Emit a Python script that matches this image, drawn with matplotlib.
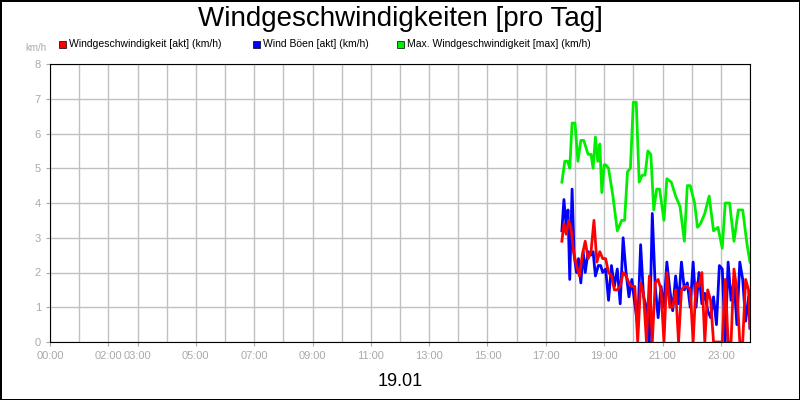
import matplotlib.pyplot as plt

plt.rcParams['font.family'] = ['Liberation Sans', 'DejaVu Sans']

# hours of the day, values in km/h
t_max = [17.55, 17.65, 17.75, 17.82, 17.9, 18.0, 18.1, 18.2, 18.3, 18.45, 18.55, 18.62, 18.7, 18.78, 18.85, 18.92, 19.0,
         19.05, 19.15, 19.3, 19.45, 19.6, 19.7, 19.8, 19.9, 20.0, 20.1, 20.2, 20.3, 20.4, 20.5, 20.6, 20.7, 20.8, 20.9,
         21.05, 21.15, 21.3, 21.45, 21.6, 21.75, 21.85, 21.95, 22.1, 22.2, 22.3, 22.45, 22.6, 22.75, 22.9, 23.05,
         23.15, 23.3, 23.45, 23.6, 23.75, 23.9, 24.0]
v_max = [4.6, 5.2, 5.2, 5.0, 6.3, 6.3, 5.2, 5.8, 5.8, 5.4, 5.4, 5.0, 5.9, 5.2, 5.7, 4.3, 5.1,
         5.1, 5.0, 4.2, 3.2, 3.5, 3.5, 4.9, 5.0, 6.9, 6.9, 4.6, 4.8, 4.8, 5.5, 5.4, 3.8, 4.4, 4.4,
         3.5, 4.7, 4.6, 4.2, 3.9, 2.9, 4.5, 4.5, 4.0, 3.3, 3.4, 3.7, 4.2, 3.2, 3.3, 2.7,
         4.0, 4.0, 2.9, 3.8, 3.8, 2.8, 2.3]

t_gust = [17.55, 17.62, 17.7, 17.76, 17.82, 17.9, 17.97, 18.05, 18.12, 18.2, 18.28, 18.35, 18.45, 18.55, 18.62, 18.7,
          18.8, 18.88, 18.95, 19.05, 19.15, 19.25, 19.35, 19.45, 19.55, 19.65, 19.75, 19.85, 19.95, 20.05, 20.15,
          20.25, 20.35, 20.45, 20.55, 20.65, 20.75, 20.85, 20.95, 21.05, 21.15, 21.25, 21.35, 21.45, 21.55, 21.65,
          21.75, 21.85, 21.95, 22.05, 22.15, 22.25, 22.35, 22.45, 22.55, 22.65, 22.75, 22.85, 22.95, 23.05, 23.15,
          23.25, 23.35, 23.45, 23.55, 23.65, 23.75, 23.85, 23.95, 24.0]
v_gust = [3.2, 4.1, 3.3, 3.8, 1.8, 4.4, 2.5, 2.0, 2.4, 1.7, 2.6, 2.0, 2.6, 2.5, 2.6, 1.9, 2.2,
          2.2, 2.0, 2.1, 1.2, 2.2, 1.6, 2.1, 1.1, 3.0, 2.0, 1.3, 1.8, 1.1, 0.5, 2.8, 1.3, 1.0, 0.0, 3.7,
          1.6, 0.7, 1.6, 1.0, 2.3, 1.5, 0.9, 1.9, 1.1, 2.3, 1.5, 1.7, 1.0, 2.3, 1.0, 2.0, 1.1, 1.4, 0.9, 0.7,
          1.3, 0.5, 2.2, 2.1, 0.0, 2.3, 1.2, 1.8, 0.5, 2.3, 1.8, 0.6, 1.3, 0.4]

t_wind = [17.55, 17.62, 17.7, 17.78, 17.86, 17.95, 18.05, 18.15, 18.25, 18.35, 18.45, 18.55, 18.65, 18.75, 18.85,
          18.95, 19.05, 19.15, 19.25, 19.35, 19.45, 19.55, 19.65, 19.75, 19.85, 19.95, 20.05, 20.15, 20.25, 20.35,
          20.45, 20.55, 20.65, 20.75, 20.85, 20.95, 21.05, 21.15, 21.25, 21.35, 21.45, 21.55, 21.65, 21.75, 21.85,
          21.95, 22.05, 22.15, 22.25, 22.35, 22.45, 22.55, 22.65, 22.75, 22.85, 22.95, 23.05, 23.15, 23.25, 23.35,
          23.45, 23.55, 23.65, 23.75, 23.85, 23.95, 24.0]
v_wind = [2.9, 3.4, 3.1, 3.5, 3.3, 2.6, 2.2, 1.9, 2.5, 2.9, 2.4, 2.6, 3.5, 2.3, 2.6, 2.4, 2.4,
          2.0, 1.9, 1.5, 1.5, 1.6, 2.0, 1.9, 1.7, 1.6, 1.6, 0.0, 1.7, 1.4, 0.0, 1.9, 0.0, 1.7, 1.8,
          1.5, 0.0, 2.0, 1.0, 1.0, 1.5, 0.0, 1.5, 1.6, 1.6, 1.5, 0.0, 1.7, 1.6, 2.0, 0.0, 1.5, 1.2,
          0.0, 0.0, 0.0, 0.0, 1.8, 0.0, 0.0, 2.1, 1.5, 0.0, 0.0, 1.8, 1.5, 0.4]

tick_hours = [0, 2, 3, 5, 7, 9, 11, 13, 15, 17, 19, 21, 23]

fig = plt.figure(figsize=(8, 4), dpi=100)
fig.patch.set_edgecolor('black')
fig.patch.set_linewidth(2)
ax = fig.add_axes([50 / 800, 58 / 400, 700 / 800, 278 / 400])

ax.plot(t_max, v_max, color='#00ee00', lw=2)
ax.plot(t_gust, v_gust, color='#0000ff', lw=2)
ax.plot(t_wind, v_wind, color='#ff0000', lw=2)

ax.set_xlim(0, 24)
ax.set_ylim(0, 8)
ax.set_xticks(range(25), minor=True)
ax.set_xticks(tick_hours)
ax.set_xticklabels(['%02d:00' % h for h in tick_hours])
ax.set_yticks(range(9))
ax.grid(True, which='both', color='#c0c0c0', lw=1)
ax.set_axisbelow(True)
ax.tick_params(colors='#aaaaaa', labelcolor='#aaaaaa', labelsize=8, length=3)
ax.tick_params(which='minor', length=0)
for s in ax.spines.values():
    s.set_color('black')

fig.text(0.5, 0.952, 'Windgeschwindigkeiten [pro Tag]', ha='center', va='center', fontsize=20)
fig.text(0.5, 0.045, '19.01', ha='center', va='center', fontsize=13)
fig.text(0.045, 0.88, 'km/h', ha='center', va='center', fontsize=7, color='#aaaaaa')

legend = [('Windgeschwindigkeit [akt] (km/h)', '#ff0000', 59),
          ('Wind Böen [akt] (km/h)', '#0000ff', 253),
          ('Max. Windgeschwindigkeit [max] (km/h)', '#00ee00', 397)]
for label, c, x in legend:
    fig.patches.append(plt.Rectangle((x / 800, 0.88), 7 / 800, 7 / 400, transform=fig.transFigure,
                                     facecolor=c, edgecolor='black', lw=0.5))
    fig.text((x + 10) / 800, 0.889, label, va='center', fontsize=7.5)

fig.savefig('out.png', dpi=100, edgecolor=fig.get_edgecolor())
